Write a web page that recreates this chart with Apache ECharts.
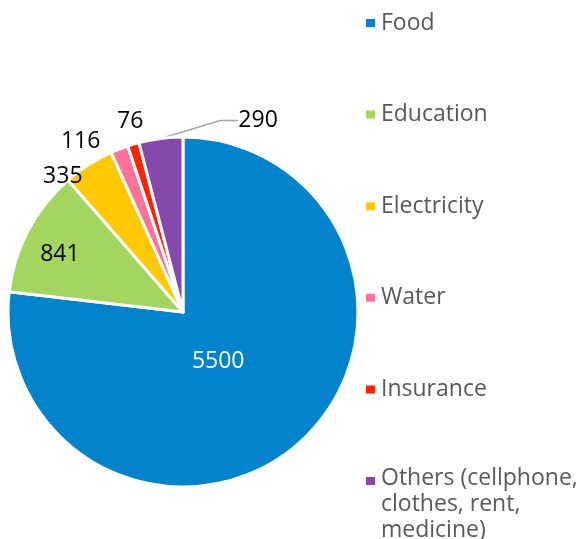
<!DOCTYPE html>
<html>
<head>
<meta charset="utf-8">
<script src="https://cdn.jsdelivr.net/npm/echarts@6/dist/echarts.min.js"></script>
<style>
  html, body { margin: 0; padding: 0; background: #fff; }
  #pie-chart { width: 586px; height: 539px; }
</style>
</head>
<body>
<div id="pie-chart"></div>
<script>
  // data
  const categories = ['Food', 'Education', 'Electricity', 'Water', 'Insurance', 'Others (cellphone,\nclothes, rent,\nmedicine)'];
  const values = [5500, 841, 335, 116, 76, 290];

  const colors = ['#0383cb', '#a3d55f', '#ffc800', '#ff7397', '#ff2200', '#8549ae'];
  const labelPos = ['inside', 'inside', 'outside', 'outside', 'outside', 'outside'];
  const labelColor = ['#fff', '#000', '#000', '#000', '#000', '#000'];
  // nudge of each label from where echarts puts it
  const labelShift = [[-25, -18], [-43, -15], [17, 12], [4, -8], [33, -23], [140, -18]];

  let chart = echarts.init(document.getElementById('pie-chart'));
  let font = '"Open Sans", sans-serif';

  let seriesData = values.map(function (v, i) {
    return {
      name: categories[i],
      value: v,
      itemStyle: {color: colors[i]},
      label: {position: labelPos[i], color: labelColor[i]},
      labelLine: {show: i === 5}
    }
  });

  let legendText = {fontFamily: font, fontSize: 23, color: '#595959'};

  let option = {
    animation: false,
    legend: [
      {
        data: categories.slice(0, 5),
        orient: 'vertical',
        left: 364,
        top: 6,
        padding: 0,
        itemGap: 57.6,
        itemWidth: 11,
        itemHeight: 10,
        icon: 'rect',
        selectedMode: false,
        textStyle: Object.assign({lineHeight: 28, padding: [0, 0, 6, 0]}, legendText)
      },
      {
        // first line sits next to the icon, so a blank spacer line goes on top
        data: categories.slice(5),
        orient: 'vertical',
        left: 364,
        top: 419,
        padding: 0,
        itemWidth: 11,
        itemHeight: 10,
        icon: 'rect',
        selectedMode: false,
        formatter: function (name) {
          return '{sp| }\n' + name.split('\n').map(function (s) { return '{t|' + s + '}'; }).join('\n');
        },
        textStyle: Object.assign({
          rich: {
            sp: {height: 46, lineHeight: 46, fontSize: 10},
            t: Object.assign({lineHeight: 26}, legendText)
          }
        }, legendText)
      }
    ],
    series: [{
      type: 'pie',
      center: [183, 312],
      radius: 175,
      startAngle: 90,
      clockwise: true,
      avoidLabelOverlap: false,
      itemStyle: {borderColor: '#fff', borderWidth: 3},
      label: {fontFamily: font, fontSize: 23, formatter: '{c}'},
      labelLine: {length: 0, length2: 18, lineStyle: {color: '#a6a6a6', width: 1.5}},
      emphasis: {disabled: true},
      labelLayout: function (params) {
        let s = labelShift[params.dataIndex];
        let r = params.labelRect;
        return {
          x: r.x + r.width / 2 + s[0],
          y: r.y + r.height / 2 + s[1],
          align: 'center',
          verticalAlign: 'middle'
        }
      },
      data: seriesData
    }]
  };
  chart.setOption(option);
</script>
</body>
</html>
